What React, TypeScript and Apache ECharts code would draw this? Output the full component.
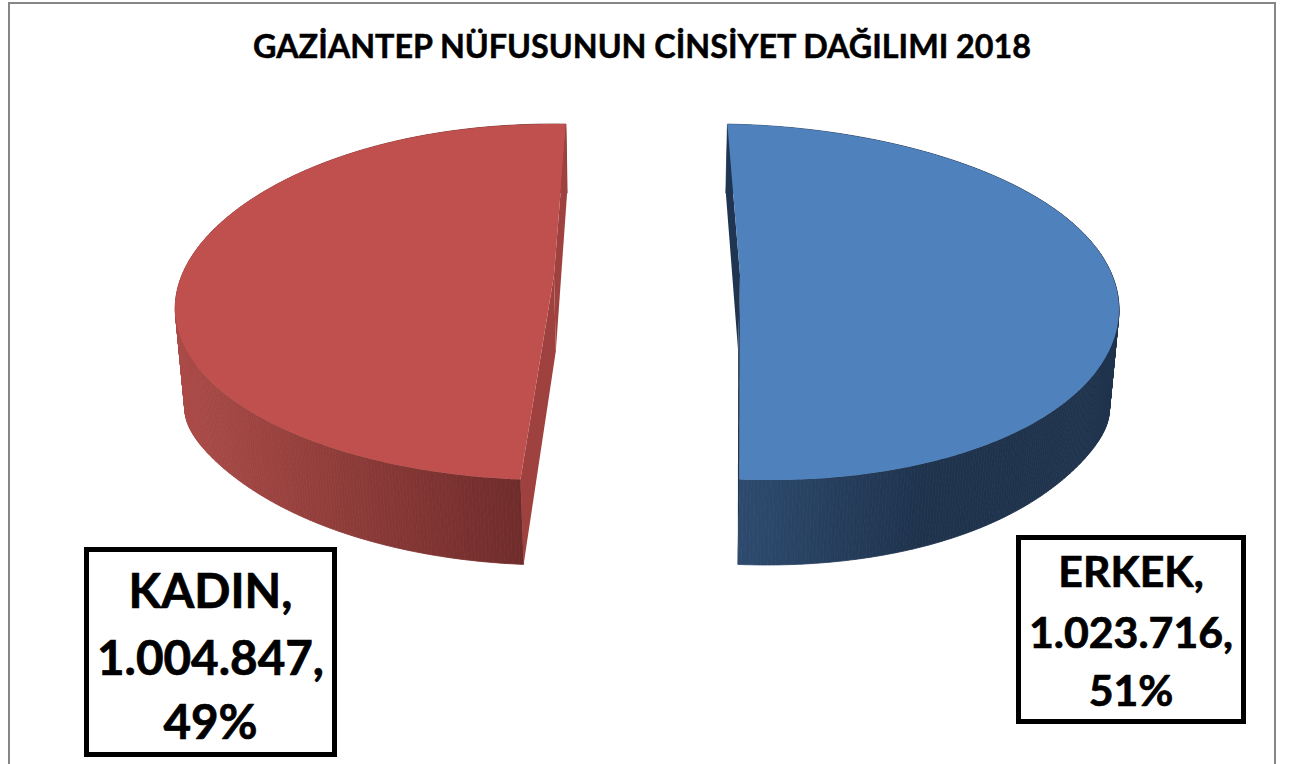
import React, { useEffect, useRef } from "react";
import * as echarts from "echarts";

const titleText = "GAZİANTEP NÜFUSUNUN CİNSİYET DAĞILIMI 2018";
const sliceNames = ["ERKEK", "KADIN"];
const sliceValues = [1023716, 1004847];
const sliceLabels = ["1.023.716", "1.004.847"];
const slicePercents = ["51%", "49%"];

const topColors = ["#4F81BD", "#C0504D"];
const cutColors = ["#1F3552", "#9F423F"];
const wallStops = [
  { x1: 738, x2: 925, c1: [46, 75, 111], c2: [31, 51, 77] },
  { x1: 174, x2: 522, c1: [171, 75, 71], c2: [111, 44, 43] },
];
const explodeX = [94, -92];
const boxes = [
  { x: 1018.5, y: 537.5, w: 225, h: 184, size: 42.8, lines: [570, 631, 689] },
  { x: 86.5, y: 549.5, w: 248, h: 205, size: 47.6, lines: [589.5, 656, 720] },
];

// Projection of the tilted disc
const VX = 646, CY = 275, R = 372, K = 173.9, DEPTH = 77.8, P = 0.152, Q = 0.02, SKEW = 12.6, ROT = 2.2, BULGE = 27;
const project = (thetaDeg: number, radius: number, z: number, offset: number) => {
  const t = (thetaDeg * Math.PI) / 180;
  const X = Math.sin(t) * radius;
  const Y = -Math.cos(t) * radius;
  const w = 1 - P * Y + Q * z;
  return [
    VX + (offset + R * X) / w + SKEW * Y * Y * Y,
    CY + (K * Y + DEPTH * z) / w + z * BULGE * Math.pow(X * X, 6),
  ];
};

const total = sliceValues.reduce((a, b) => a + b, 0);

const rim = (a: number, b: number, z: number, off: number) => {
  const n = Math.max(2, Math.ceil(Math.abs(b - a) * 2));
  const pts: number[][] = [];
  for (let i = 0; i <= n; i++) pts.push(project(a + ((b - a) * i) / n, 1, z, off));
  return pts;
};

const wallColor = (i: number, x: number) => {
  const s = wallStops[i];
  const f = Math.min(1, Math.max(0, (x - s.x1) / (s.x2 - s.x1)));
  const c = s.c1.map((v, k) => Math.round(v + (s.c2[k] - v) * f));
  return `rgb(${c[0]},${c[1]},${c[2]})`;
};

const renderItem = (params: any) => {
  const i = params.dataIndex;
  let start = ROT;
  for (let k = 0; k < i; k++) start += (sliceValues[k] / total) * 360;
  const end = start + (sliceValues[i] / total) * 360;
  const off = explodeX[i];
  const apexTop = project(0, 0, 0, off);
  const apexBot = project(0, 0, 1, off);
  const topRim = rim(start, end, 0, off);
  const botRim = rim(start, end, 1, off);
  const strips = topRim.slice(1).map((p, j) => {
    const color = wallColor(i, (p[0] + topRim[j][0]) / 2);
    return {
      type: "polygon",
      shape: { points: [topRim[j], p, botRim[j + 1], botRim[j]] },
      style: { fill: color, stroke: color, lineWidth: 0.8 },
    };
  });
  const box = boxes[i];
  const lines = [`${sliceNames[i]},`, `${sliceLabels[i]},`, slicePercents[i]];
  const cx = box.x + box.w / 2;
  return {
    type: "group",
    children: [
      ...strips,
      { type: "polygon", shape: { points: [apexTop, topRim[0], botRim[0], apexBot] }, style: { fill: cutColors[i] } },
      { type: "polygon", shape: { points: [apexTop, topRim[topRim.length - 1], botRim[botRim.length - 1], apexBot] }, style: { fill: cutColors[i] } },
      { type: "polygon", shape: { points: [apexTop, ...topRim] }, style: { fill: topColors[i] } },
      { type: "rect", shape: { x: box.x, y: box.y, width: box.w, height: box.h }, style: { fill: "#FFFFFF", stroke: "#000000", lineWidth: 5 } },
      ...lines.map((text, j) => ({
        type: "text",
        style: {
          text, x: cx, y: box.lines[j], fill: "#000000",
          fontFamily: "Lato", fontWeight: 700, fontSize: box.size,
          stroke: "#000000", lineWidth: 0.7,
          align: "center", verticalAlign: "middle",
        },
      })),
    ],
  };
};

export default function App() {
  const ref = useRef<HTMLDivElement>(null);
  useEffect(() => {
    document.body.style.margin = "0";
    const chart = echarts.init(ref.current!, null, { renderer: "svg" });
    chart.setOption({
      animation: false,
      backgroundColor: "#FFFFFF",
      title: {
        text: titleText, left: 248, top: 24,
        textStyle: {
          fontFamily: "Lato", fontWeight: 700, fontSize: 32.3, color: "#000000",
          textBorderColor: "#000000", textBorderWidth: 0.5,
        },
      },
      graphic: [
        { type: "rect", z: -1, shape: { x: 9, y: 3, width: 1266, height: 800 }, style: { fill: "none", stroke: "#868686", lineWidth: 2 } },
      ],
      series: [
        {
          type: "custom",
          coordinateSystem: "none",
          renderItem,
          silent: true,
          data: sliceNames.map((name, i) => ({ name, value: sliceValues[i] })),
        },
      ],
    });
    return () => chart.dispose();
  }, []);
  return <div ref={ref} style={{ width: 1290, height: 764 }} />;
}
